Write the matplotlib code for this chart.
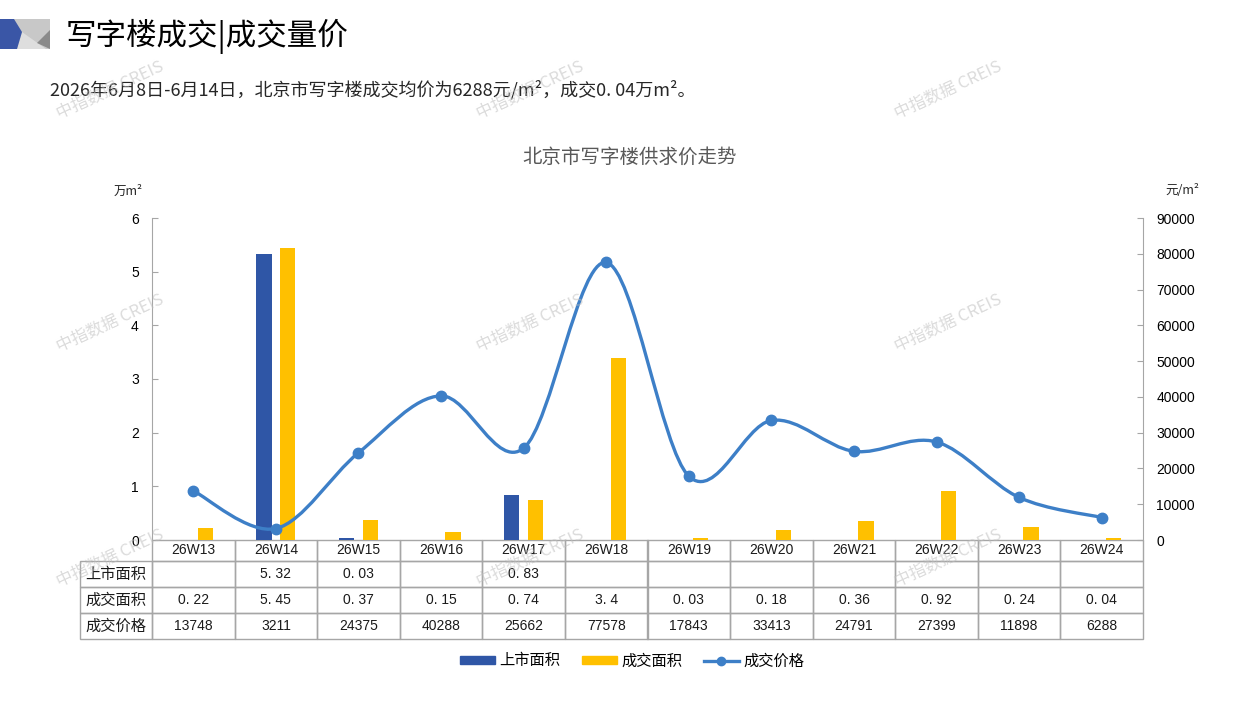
import numpy as np
import matplotlib
matplotlib.use("Agg")
import matplotlib.pyplot as plt
from matplotlib.path import Path
from matplotlib.patches import PathPatch, Polygon, Rectangle, Patch
from matplotlib.lines import Line2D

plt.rcParams['font.family'] = ['Noto Sans CJK SC', 'DejaVu Sans']

weeks = ['26W13', '26W14', '26W15', '26W16', '26W17', '26W18',
         '26W19', '26W20', '26W21', '26W22', '26W23', '26W24']
listed_area = [np.nan, 5.32, 0.03, np.nan, 0.83, np.nan,
               np.nan, np.nan, np.nan, np.nan, np.nan, np.nan]
deal_area = [0.22, 5.45, 0.37, 0.15, 0.74, 3.4, 0.03, 0.18, 0.36, 0.92, 0.24, 0.04]
deal_price = [13748, 3211, 24375, 40288, 25662, 77578, 17843, 33413, 24791, 27399, 11898, 6288]

BLUE = '#2F56A6'
YELLOW = '#FFC000'
LINE = '#3D7FC7'
GRID = '#A6A6A6'

W, H = 1257, 706
fig = plt.figure(figsize=(W / 100, H / 100), dpi=100)


def fx(px):
    return px / W


def fy(py):
    return 1 - py / H


# header icon
icon = fig.add_axes([0, 0, 1, 1], zorder=-1)
icon.set_xlim(0, W)
icon.set_ylim(H, 0)
icon.axis('off')
icon.add_patch(Rectangle((14, 19), 36, 30, color='#C8C8C8', lw=0))
icon.add_patch(Polygon([(22, 32), (17, 49), (46, 49)], color='#DEDEDE', lw=0))
icon.add_patch(Polygon([(50, 30), (50, 49), (37, 43)], color='#8A8A8A', lw=0))
icon.add_patch(Polygon([(0, 19), (14, 19), (22, 32), (17, 49), (0, 49)], color='#3A56A6', lw=0))

fig.text(fx(66), fy(36), '写字楼成交|成交量价', fontsize=22, color='black', va='center', ha='left')
fig.text(fx(50), fy(90), '2026年6月8日-6月14日，北京市写字楼成交均价为6288元/m²，成交0. 04万m²。',
         fontsize=13, color='#262626', va='center', ha='left')
fig.text(fx(630), fy(157), '北京市写字楼供求价走势', fontsize=14, color='#595959', va='center', ha='center')
fig.text(fx(128), fy(191), '万m²', fontsize=9, color='#262626', va='center', ha='center')
fig.text(fx(1182), fy(191), '元/m²', fontsize=9, color='#262626', va='center', ha='center')

# main axes
ax = fig.add_axes([fx(152), fy(540), 991 / W, 322 / H])
x = np.arange(len(weeks))
bw = 0.185
ax.bar(x - 0.145, listed_area, width=bw, color=BLUE, zorder=2)
ax.bar(x + 0.145, deal_area, width=bw, color=YELLOW, zorder=2)
ax.set_xlim(-0.5, len(weeks) - 0.5)
ax.set_ylim(0, 6)
ax.set_yticks(range(0, 7))
ax.set_xticks([])

ax2 = ax.twinx()
ax2.set_ylim(0, 90000)
ax2.set_yticks(range(0, 90001, 10000))


def smooth_path(xs, ys):
    pts = np.column_stack([xs, ys]).astype(float)
    n = len(pts)
    verts = [pts[0]]
    codes = [Path.MOVETO]
    for i in range(n - 1):
        p0 = pts[max(i - 1, 0)]
        p1 = pts[i]
        p2 = pts[i + 1]
        p3 = pts[min(i + 2, n - 1)]
        verts += [p1 + (p2 - p0) / 6, p2 - (p3 - p1) / 6, p2]
        codes += [Path.CURVE4] * 3
    return Path(verts, codes)


ax2.add_patch(PathPatch(smooth_path(x, deal_price), fill=False, ec=LINE, lw=2.4, zorder=3))
ax2.plot(x, deal_price, 'o', color=LINE, markersize=7.5, zorder=4)

for a in (ax, ax2):
    for s in ('top', 'bottom'):
        a.spines[s].set_visible(False)
    a.spines['left'].set_color(GRID)
    a.spines['right'].set_color(GRID)
    a.tick_params(axis='y', direction='in', length=4, color=GRID, pad=9.5, labelsize=10)
    for lab in a.get_yticklabels():
        lab.set_fontfamily('Liberation Sans')
ax.spines['right'].set_visible(False)
ax2.spines['left'].set_visible(False)


# data table under the chart
def fmt_area(v):
    if np.isnan(v):
        return ''
    return f'{v:g}'.replace('.', '. ')


cell_text = [['上市面积'] + [fmt_area(v) for v in listed_area],
             ['成交面积'] + [fmt_area(v) for v in deal_area],
             ['成交价格'] + [str(v) for v in deal_price]]
col_w = [72] + [991 / 12] * 12
tbl = ax.table(cellText=cell_text, colLabels=[''] + weeks, colWidths=col_w,
               cellLoc='center', bbox=[-72 / 991, -99 / 322, 1063 / 991, 99 / 322])
tbl.auto_set_font_size(False)
for (r, c), cell in tbl.get_celld().items():
    cell.set_edgecolor(GRID)
    cell.set_linewidth(1)
    cell.set_facecolor('none')
    cell.set_height(21 if r == 0 else 26)
    t = cell.get_text()
    t.set_color('#1a1a1a')
    if c == 0:
        t.set_fontsize(11)
        t.set_fontfamily(['Noto Sans CJK SC', 'DejaVu Sans'])
    else:
        t.set_fontsize(10)
        t.set_fontfamily(['Liberation Sans', 'DejaVu Sans'])
tbl[0, 0].visible_edges = 'open'

# legend
handles = [Patch(color=BLUE), Patch(color=YELLOW),
           Line2D([], [], color=LINE, lw=2.4, marker='o', markersize=6)]
fig.legend(handles, ['上市面积', '成交面积', '成交价格'], loc='center', ncol=3,
           bbox_to_anchor=(fx(632), fy(661)), frameon=False, fontsize=11,
           handlelength=2.3, handleheight=0.5, handletextpad=0.3, columnspacing=1.4)

# watermarks
for wx in (110, 530, 948):
    for wy in (90, 323, 558):
        fig.text(fx(wx), fy(wy), '中指数据 CREIS', fontsize=12, color='#BEBEBE', alpha=0.55,
                 rotation=25, ha='center', va='center', rotation_mode='anchor', zorder=10)

fig.savefig('out.png', dpi=100)
